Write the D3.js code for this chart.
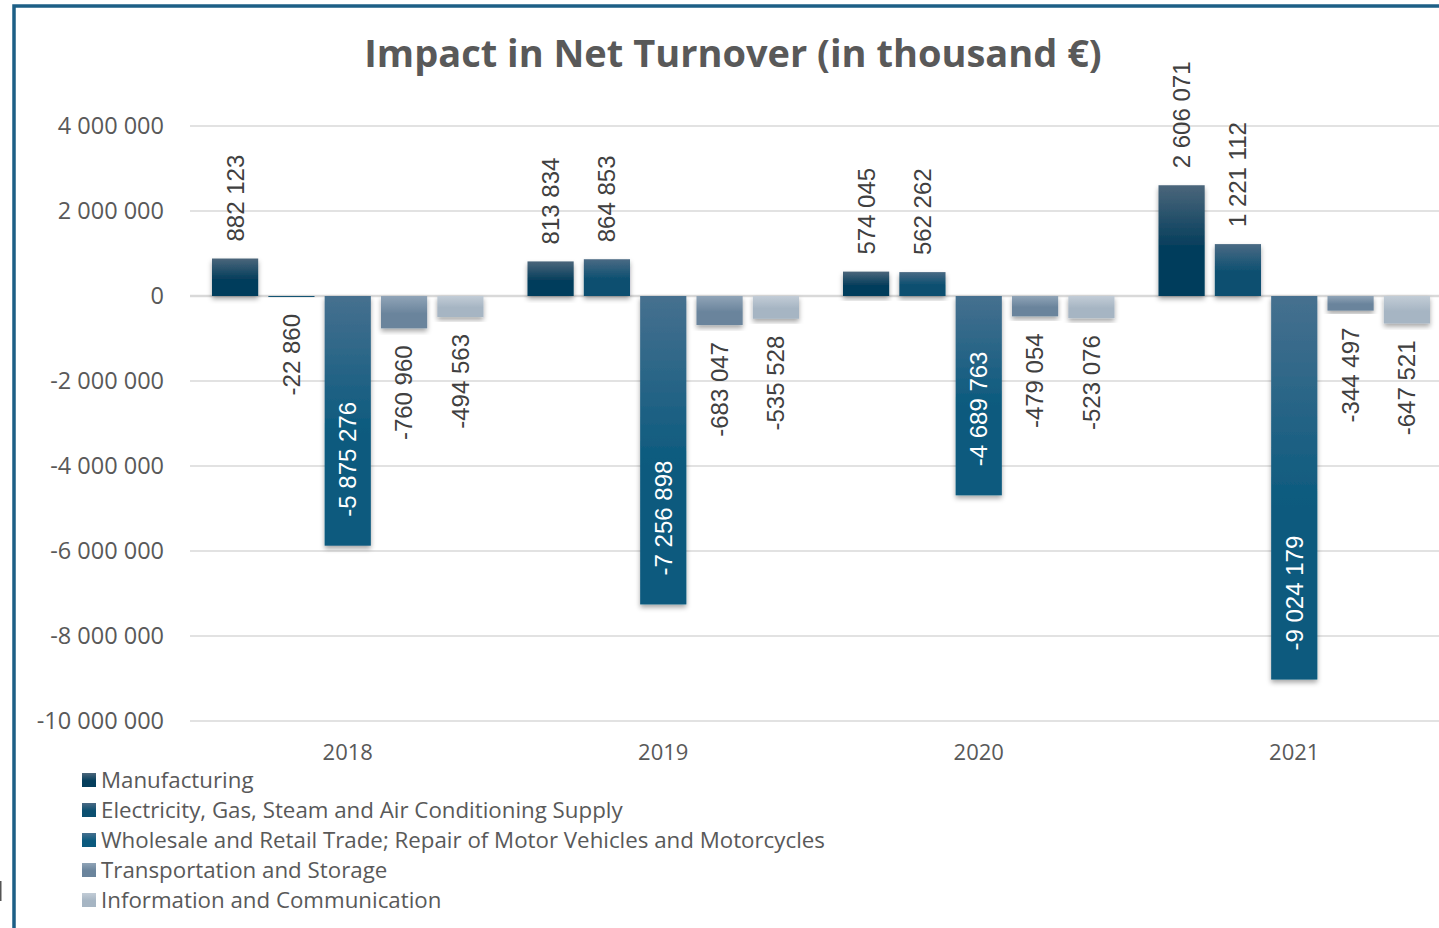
<!DOCTYPE html>
<html>
<head>
<meta charset="utf-8">
<script src="https://cdn.jsdelivr.net/npm/d3@7"></script>
<style>
  html, body { margin: 0; padding: 0; background: #fff; overflow: hidden; }
  svg { display: block; }
</style>
</head>
<body>
<div id="chart"></div>
<script>
// --- data ---
const years = ['2018', '2019', '2020', '2021'];
const sectors = [
  'Manufacturing',
  'Electricity, Gas, Steam and Air Conditioning Supply',
  'Wholesale and Retail Trade; Repair of Motor Vehicles and Motorcycles',
  'Transportation and Storage',
  'Information and Communication'
];
const manufacturing  = [882123, 813834, 574045, 2606071];
const electricity    = [-22860, 864853, 562262, 1221112];
const wholesale      = [-5875276, -7256898, -4689763, -9024179];
const transportation = [-760960, -683047, -479054, -344497];
const information    = [-494563, -535528, -523076, -647521];
const seriesValues = [manufacturing, electricity, wholesale, transportation, information];
const yTicks = [4000000, 2000000, 0, -2000000, -4000000, -6000000, -8000000, -10000000];

// gradient colours per sector: [top, base]
const sectorColors = [
  ['#4b667b', '#053e5c'],
  ['#4a6a84', '#0b4f70'],
  ['#46708f', '#0b5a7e'],
  ['#90a4b7', '#6a849c'],
  ['#c2ccd6', '#a6b5c3']
];
// Wholesale labels sit inside the bar in white
const insideLabel = [false, false, true, false, false];

const W = 1439, H = 928;
const fmt = v => d3.format(',')(v).replace(/,/g, ' ').replace('\u2212', '-');

const svg = d3.select('#chart').append('svg')
  .attr('width', W).attr('height', H);

const defs = svg.append('defs');
sectorColors.forEach((c, i) => {
  const g = defs.append('linearGradient')
    .attr('id', 'grad' + i)
    .attr('x1', 0).attr('y1', 0).attr('x2', 0).attr('y2', 1);
  g.append('stop').attr('offset', '0%').attr('stop-color', c[0]);
  g.append('stop').attr('offset', '55%').attr('stop-color', c[1]);
  g.append('stop').attr('offset', '100%').attr('stop-color', c[1]);
});
const shadow = defs.append('filter').attr('id', 'shadow')
  .attr('x', '-20%').attr('y', '-20%').attr('width', '140%').attr('height', '140%');
shadow.append('feDropShadow')
  .attr('dx', 0).attr('dy', 3).attr('stdDeviation', 2.5)
  .attr('flood-color', '#000').attr('flood-opacity', 0.35);

// frame
svg.append('path')
  .attr('d', `M14,${H} L14,6 L${W},6`)
  .attr('fill', 'none')
  .attr('stroke', '#1d5f86')
  .attr('stroke-width', 3.5);
svg.append('rect').attr('x', 0).attr('y', 881).attr('width', 1.5).attr('height', 20).attr('fill', '#555');

// title
svg.append('text')
  .attr('x', 733).attr('y', 67)
  .attr('text-anchor', 'middle')
  .style('font-family', '"Open Sans", sans-serif')
  .style('font-weight', 700)
  .style('font-size', '38px')
  .attr('fill', '#595959')
  .text('Impact in Net Turnover (in thousand €)');

// scales
const plotLeft = 190, plotRight = 1452;
const x0 = d3.scaleBand().domain(years).range([plotLeft, plotRight]);
const x1 = d3.scaleBand().domain(d3.range(sectors.length))
  .range([22, x0.bandwidth() - 22]).paddingInner(0.18);
const y = d3.scaleLinear().domain([-10000000, 4000000]).range([721, 126]);

// gridlines
svg.append('g').selectAll('line')
  .data(yTicks)
  .join('line')
    .attr('x1', plotLeft).attr('x2', W)
    .attr('y1', d => y(d)).attr('y2', d => y(d))
    .attr('stroke', '#d9d9d9')
    .attr('stroke-width', d => d === 0 ? 2.5 : 1.5);

// y axis labels
const yAxis = d3.axisLeft(y).tickValues(yTicks).tickFormat(fmt).tickSize(0).tickPadding(0);
const yAxisG = svg.append('g').attr('transform', 'translate(164,0)').call(yAxis);
yAxisG.select('.domain').remove();
yAxisG.selectAll('text')
  .style('font-family', '"Open Sans", sans-serif')
  .style('font-size', '23.5px')
  .attr('fill', '#595959');

// x axis labels
const xAxis = d3.axisBottom(x0).tickSize(0).tickPadding(0);
const xAxisG = svg.append('g').attr('transform', 'translate(0,744)').call(xAxis);
xAxisG.select('.domain').remove();
xAxisG.selectAll('text')
  .style('font-family', '"Open Sans", sans-serif')
  .style('font-size', '22px')
  .attr('fill', '#595959');

// bars
const cells = [];
years.forEach((yr, yi) => {
  seriesValues.forEach((vals, si) => cells.push({ year: yr, si, value: vals[yi] }));
});

const barX = d => x0(d.year) + x1(d.si);

svg.append('g').selectAll('rect')
  .data(cells)
  .join('rect')
    .attr('x', barX)
    .attr('y', d => y(Math.max(0, d.value)))
    .attr('width', x1.bandwidth())
    .attr('height', d => Math.abs(y(d.value) - y(0)))
    .attr('fill', d => `url(#grad${d.si})`)
    .attr('filter', 'url(#shadow)');

// data labels (rotated)
const gap = 17;
svg.append('g').selectAll('text')
  .data(cells)
  .join('text')
    .attr('transform', d => {
      const cx = barX(d) + x1.bandwidth() / 2;
      let ty;
      if (insideLabel[d.si]) ty = y(d.value) - 29;
      else if (d.value >= 0) ty = y(d.value) - gap;
      else ty = y(d.value) + gap;
      return `translate(${cx},${ty}) rotate(-90)`;
    })
    .attr('text-anchor', d => insideLabel[d.si] ? 'start' : (d.value >= 0 ? 'start' : 'end'))
    .attr('dy', '0.35em')
    .style('font-family', '"Liberation Sans", Arial, sans-serif')
    .style('font-size', '24px')
    .attr('fill', d => insideLabel[d.si] ? '#ffffff' : '#404040')
    .text(d => fmt(d.value));

// legend
const legend = svg.append('g').attr('transform', 'translate(82,780)');
const rows = legend.selectAll('g')
  .data(sectors)
  .join('g')
    .attr('transform', (d, i) => `translate(0,${i * 30})`);
rows.append('rect')
  .attr('x', 0).attr('y', -7)
  .attr('width', 14).attr('height', 14)
  .attr('fill', (d, i) => `url(#grad${i})`);
rows.append('text')
  .attr('x', 19).attr('dy', '0.35em')
  .style('font-family', '"Open Sans", sans-serif')
  .style('font-size', '22.3px')
  .attr('fill', '#595959')
  .text(d => d);
</script>
</body>
</html>
